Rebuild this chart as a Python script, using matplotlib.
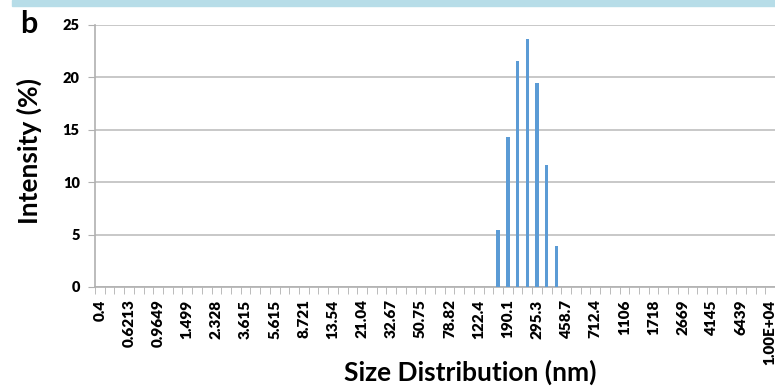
import matplotlib
matplotlib.use("Agg")
import matplotlib.pyplot as plt
from matplotlib.patches import Rectangle

plt.rcParams['font.family'] = ['Lato', 'DejaVu Sans']

sizes = ["0.4", "0.4632", "0.5365", "0.6213", "0.7195", "0.8332", "0.9649", "1.117", "1.294",
         "1.499", "1.736", "2.01", "2.328", "2.696", "3.122", "3.615", "4.187", "4.849",
         "5.615", "6.503", "7.531", "8.721", "10.1", "11.7", "13.54", "15.69", "18.17",
         "21.04", "24.36", "28.21", "32.67", "37.84", "43.82", "50.75", "58.77", "68.06",
         "78.82", "91.28", "105.7", "122.4", "141.8", "164.2", "190.1", "220.2", "255",
         "295.3", "342", "396.1", "458.7", "531.2", "615.1", "712.4", "825", "955.4",
         "1106", "1281", "1484", "1718", "1990", "2305", "2669", "3091", "3580",
         "4145", "4801", "5560", "6439", "7456", "8635", "1.00E+04"]

intensity = [0.0] * len(sizes)
peak_bins = ["164.2", "190.1", "220.2", "255", "295.3", "342", "396.1"]
peak_vals = [5.4, 14.3, 21.6, 23.7, 19.5, 11.6, 3.9]
for b, v in zip(peak_bins, peak_vals):
    intensity[sizes.index(b)] = v

yticks = [0, 5, 10, 15, 20, 25]

fig = plt.figure(figsize=(7.75, 3.88), dpi=100)
fig.patches.append(Rectangle((12/775, 1 - 6/388), 1, 6/388, transform=fig.transFigure,
                             color='#b7dde8', zorder=0))
ax = fig.add_axes([95/775, 1 - 287/388, 680/775, (287 - 25)/388])

x = list(range(len(sizes)))
ax.bar(x, intensity, width=0.36, color='#5b9bd5', zorder=3)

ax.set_xlim(-0.5, len(sizes) - 0.5)
ax.set_ylim(0, 25)
ax.set_yticks(yticks)
ax.set_yticklabels([str(t) for t in yticks], fontsize=10.5, fontweight='heavy')
ax.yaxis.grid(True, color='#bfbfbf', linewidth=1.2, zorder=0)
ax.tick_params(axis='y', length=5, color='#b0b0b0', pad=6)

# category boundary ticks
ax.set_xticks([i - 0.5 for i in range(len(sizes) + 1)], minor=True)
ax.tick_params(axis='x', which='minor', length=5, color='#b0b0b0', direction='out')
ax.set_xticks(x[::3])
ax.set_xticklabels(sizes[::3], rotation=90, fontsize=11, fontweight='heavy')
ax.tick_params(axis='x', which='major', length=0, pad=9)

for s in ['top', 'right']:
    ax.spines[s].set_visible(False)
for s in ['left', 'bottom']:
    ax.spines[s].set_color('#b0b0b0')
    ax.spines[s].set_linewidth(1.2)

fig.text(470/775, 1 - 372/388, "Size Distribution (nm)", fontsize=19, fontweight='bold',
         ha='center', va='center')
fig.text(29/775, 1 - 151/388, "Intensity (%)", fontsize=19, fontweight='bold',
         ha='center', va='center', rotation=90)
fig.text(29/775, 1 - 24/388, "b", fontsize=22, fontweight='bold', ha='center', va='center')

fig.savefig("out.png", dpi=100)
